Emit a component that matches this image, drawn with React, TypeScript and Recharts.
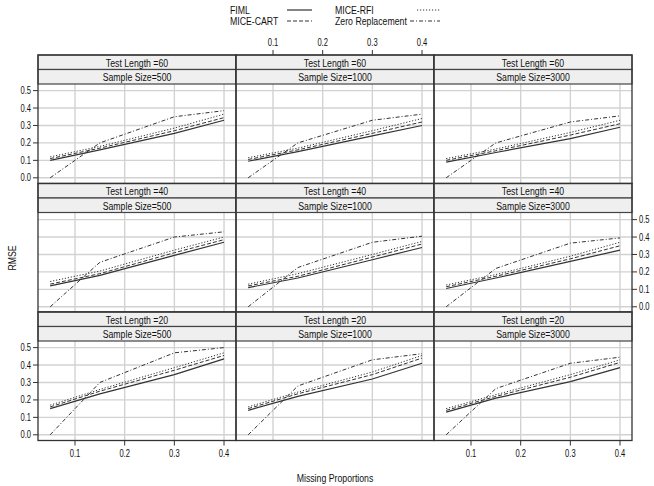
import React from "react";
import { Line, LineChart, ReferenceLine, XAxis, YAxis } from "recharts";

// values; rows = test length (60, 40, 20), cols = sample size (500, 1000, 3000)
const missingProportions = [0.05, 0.15, 0.3, 0.4];
const testLengths = [60, 40, 20];
const sampleSizes = [500, 1000, 3000];
const xTicks = [0.1, 0.2, 0.3, 0.4];
const yTicks = [0, 0.1, 0.2, 0.3, 0.4, 0.5];

const fimlRmse = [
  [[0.1, 0.16, 0.255, 0.33], [0.095, 0.15, 0.24, 0.3], [0.09, 0.145, 0.225, 0.29]],
  [[0.12, 0.18, 0.295, 0.37], [0.11, 0.165, 0.27, 0.34], [0.105, 0.165, 0.26, 0.325]],
  [[0.15, 0.235, 0.345, 0.435], [0.14, 0.22, 0.32, 0.41], [0.13, 0.21, 0.305, 0.385]],
];
const cartRmse = [
  [[0.11, 0.17, 0.27, 0.345], [0.105, 0.16, 0.255, 0.32], [0.1, 0.155, 0.245, 0.31]],
  [[0.13, 0.19, 0.31, 0.385], [0.12, 0.175, 0.285, 0.36], [0.115, 0.175, 0.275, 0.35]],
  [[0.16, 0.25, 0.37, 0.455], [0.15, 0.235, 0.345, 0.44], [0.14, 0.22, 0.33, 0.415]],
];
const rfiRmse = [
  [[0.12, 0.18, 0.285, 0.365], [0.115, 0.17, 0.27, 0.34], [0.11, 0.165, 0.26, 0.33]],
  [[0.145, 0.205, 0.325, 0.4], [0.13, 0.19, 0.3, 0.375], [0.125, 0.185, 0.29, 0.37]],
  [[0.17, 0.26, 0.385, 0.47], [0.16, 0.245, 0.36, 0.455], [0.15, 0.23, 0.345, 0.43]],
];
const zeroRmse = [
  [[0.0, 0.2, 0.35, 0.385], [0.0, 0.2, 0.33, 0.365], [0.0, 0.2, 0.32, 0.355]],
  [[0.0, 0.255, 0.4, 0.43], [0.0, 0.225, 0.37, 0.405], [0.0, 0.22, 0.365, 0.395]],
  [[0.0, 0.3, 0.47, 0.5], [0.0, 0.28, 0.43, 0.465], [0.0, 0.265, 0.41, 0.445]],
];

const FONT = "'Liberation Sans', Arial, sans-serif";
const NARROW = 0.76; // fake an Arial Narrow look
const INK = "#333";

// lattice layout
const LEFT = 38;
const TOP = 55;
const COL_W = 198;
const ROW_H = 128.5;
const STRIP_H = 14.5;

const X_DOMAIN: [number, number] = [0.0255, 0.4241];
const Y_DOMAIN: [number, number] = [-0.0327, 0.7041];

const lineStyles = [
  { key: "fiml", name: "FIML", dash: undefined, width: 1.2 },
  { key: "cart", name: "MICE-CART", dash: "4 2", width: 1 },
  { key: "rfi", name: "MICE-RFI", dash: "1.2 1.8", width: 1 },
  { key: "zero", name: "Zero Replacement", dash: "4 2 1 2", width: 1 },
];

function NarrowText({
  x,
  y,
  anchor = "middle",
  size = 11.5,
  dy = "0.35em",
  children,
}: {
  x: number;
  y: number;
  anchor?: "start" | "middle" | "end";
  size?: number;
  dy?: string;
  children: React.ReactNode;
}) {
  return (
    <g transform={`translate(${x},${y}) scale(${NARROW},1)`}>
      <text x={0} y={0} dy={dy} textAnchor={anchor} fontSize={size} fill="#111" fontFamily={FONT}>
        {children}
      </text>
    </g>
  );
}

const makeTick = (side: "top" | "bottom" | "left" | "right") => (props: any) => {
  const { x, y, payload } = props;
  const label = Number(payload.value).toFixed(1);
  if (side === "top") return <NarrowText x={x} y={y} size={10} dy="-0.1em">{label}</NarrowText>;
  if (side === "bottom") return <NarrowText x={x} y={y} size={10} dy="0.8em">{label}</NarrowText>;
  if (side === "left") return <NarrowText x={x} y={y} size={10} anchor="end">{label}</NarrowText>;
  return <NarrowText x={x} y={y} size={10} anchor="start">{label}</NarrowText>;
};

function Panel({ row, col }: { row: number; col: number }) {
  const data = missingProportions.map((p, i) => ({
    p,
    fiml: fimlRmse[row][col][i],
    cart: cartRmse[row][col][i],
    rfi: rfiRmse[row][col][i],
    zero: zeroRmse[row][col][i],
  }));

  const topH = row === 0 ? 30 : 0;
  const bottomH = row === 2 ? 30 : 0;
  const leftW = col === 0 ? 38 : 0;
  const rightW = col === 2 ? 22 : 0;
  const xSide = row === 0 ? "top" : "bottom";
  const showXTicks = row !== 1;
  const showXLabels = (row === 0 && col === 1) || (row === 2 && col !== 1);
  const ySide = col === 2 ? "right" : "left";
  const showYTicks = col !== 1;
  const showYLabels = (col === 0 && row !== 1) || (col === 2 && row === 1);

  return (
    <div
      style={{
        position: "absolute",
        left: LEFT + col * COL_W - leftW,
        top: TOP + row * ROW_H - topH,
      }}
    >
      <LineChart
        width={COL_W + leftW + rightW}
        height={ROW_H + topH + bottomH}
        data={data}
        margin={{ top: 0, right: 0, bottom: 0, left: 0 }}
      >
        <XAxis
          dataKey="p"
          type="number"
          orientation={xSide}
          domain={X_DOMAIN}
          ticks={xTicks}
          interval={0}
          allowDataOverflow
          height={topH + bottomH}
          axisLine={false}
          tickLine={showXTicks ? { stroke: INK } : false}
          tickSize={5}
          tickMargin={3}
          tick={showXLabels ? makeTick(xSide) : false}
        />
        <YAxis
          type="number"
          orientation={ySide}
          domain={Y_DOMAIN}
          ticks={yTicks}
          interval={0}
          allowDataOverflow
          width={leftW + rightW}
          axisLine={false}
          tickLine={showYTicks ? { stroke: INK } : false}
          tickSize={5}
          tickMargin={2}
          tick={showYLabels ? makeTick(ySide) : false}
        />
        {xTicks.map((t) => (
          <ReferenceLine key={`gx${t}`} x={t} stroke="#d2d2d2" strokeWidth={1.4} />
        ))}
        {yTicks.map((t) => (
          <ReferenceLine key={`gy${t}`} y={t} stroke="#d2d2d2" strokeWidth={1.4} />
        ))}
        {lineStyles.map((s) => (
          <Line
            key={s.key}
            dataKey={s.key}
            stroke={INK}
            strokeWidth={s.width}
            strokeDasharray={s.dash}
            dot={false}
            activeDot={false}
            isAnimationActive={false}
          />
        ))}
      </LineChart>
    </div>
  );
}

function Overlay() {
  const cells = [];
  for (let r = 0; r < 3; r++) {
    for (let c = 0; c < 3; c++) {
      const x = LEFT + c * COL_W;
      const y = TOP + r * ROW_H;
      cells.push(
        <g key={`${r}-${c}`}>
          <rect x={x} y={y} width={COL_W} height={STRIP_H} fill="#efefef" stroke="#444" strokeWidth={1.2} />
          <rect x={x} y={y + STRIP_H} width={COL_W} height={STRIP_H} fill="#efefef" stroke="#444" strokeWidth={1.2} />
          <NarrowText x={x + COL_W / 2} y={y + STRIP_H / 2 + 0.5}>{`Test Length =${testLengths[r]}`}</NarrowText>
          <NarrowText x={x + COL_W / 2} y={y + STRIP_H * 1.5 + 0.5}>{`Sample Size=${sampleSizes[c]}`}</NarrowText>
          <rect x={x} y={y} width={COL_W} height={ROW_H} fill="none" stroke="#333" strokeWidth={1.3} />
        </g>
      );
    }
  }

  const legendRows = [
    [lineStyles[0], 230, 10, 287, 312],
    [lineStyles[1], 230, 21, 287, 312],
    [lineStyles[2], 335, 10, 417, 440],
    [lineStyles[3], 335, 21, 410, 440],
  ] as const;

  return (
    <svg width={654} height={486} style={{ position: "absolute", left: 0, top: 0, pointerEvents: "none" }}>
      {cells}
      {legendRows.map(([s, tx, ty, x1, x2]) => (
        <g key={s.key}>
          <NarrowText x={tx} y={ty} anchor="start">{s.name}</NarrowText>
          <line x1={x1} x2={x2} y1={ty} y2={ty} stroke={INK} strokeWidth={s.width} strokeDasharray={s.dash} />
        </g>
      ))}
      <NarrowText x={335} y={478}>Missing Proportions</NarrowText>
      <g transform="translate(12,258) rotate(-90)">
        <NarrowText x={0} y={0}>RMSE</NarrowText>
      </g>
    </svg>
  );
}

export default function App() {
  return (
    <div
      style={{
        position: "absolute",
        left: 0,
        top: 0,
        width: 654,
        height: 486,
        background: "#fff",
        fontFamily: FONT,
        overflow: "hidden",
      }}
    >
      {[0, 1, 2].map((r) => [0, 1, 2].map((c) => <Panel key={`${r}-${c}`} row={r} col={c} />))}
      <Overlay />
    </div>
  );
}
